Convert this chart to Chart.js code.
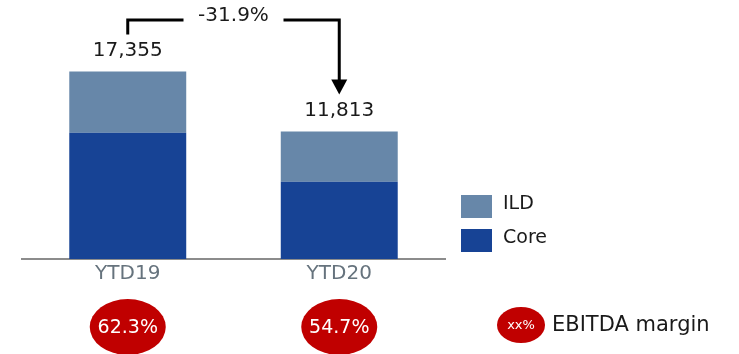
<!DOCTYPE html>
<html>
<head>
<meta charset="utf-8">
<script src="https://cdn.jsdelivr.net/npm/chart.js@4.4.1/dist/chart.umd.min.js"></script>
<style>
html,body{margin:0;padding:0;background:#fff}
.wrap{position:relative;width:739px;height:354px}
</style>
</head>
<body>
<div class="wrap"><canvas id="ebitda"></canvas></div>
<script>
// EBITDA by period, split into Core and ILD
const periods = ['YTD19', 'YTD20'];
const coreValues = [11690, 7150];
const ildValues = [5665, 4663];
const marginPct = [62.3, 54.7];

const FONT = "'DejaVu Sans', sans-serif";
const CORE = '#174395';
const ILD = '#6787a9';
const RED = '#c00000';

const totals = periods.map((_, i) => coreValues[i] + ildValues[i]);
const fmt = v => v.toLocaleString('en-US');

// totals, change bracket, margin bubbles and legend
const overlay = {
  id: 'overlay',
  afterDraw(chart) {
    const { ctx, scales: { x, y } } = chart;
    ctx.save();
    ctx.textAlign = 'center';
    ctx.textBaseline = 'middle';

    const xs = periods.map((_, i) => x.getPixelForValue(i));
    const tops = totals.map(t => y.getPixelForValue(t));

    ctx.fillStyle = '#1a1a1a';
    ctx.font = '20px ' + FONT;
    totals.forEach((t, i) => ctx.fillText(fmt(t), xs[i], tops[i] - 21));

    // change arrow from first bar to second
    const change = (totals[1] - totals[0]) / totals[0] * 100;
    const yb = 20, mid = (xs[0] + xs[1]) / 2, gap = 50;
    const tip = tops[1] - 37;
    ctx.strokeStyle = '#000';
    ctx.lineWidth = 3;
    ctx.beginPath();
    ctx.moveTo(xs[0], tops[0] - 37);
    ctx.lineTo(xs[0], yb);
    ctx.lineTo(mid - gap, yb);
    ctx.moveTo(mid + gap, yb);
    ctx.lineTo(xs[1], yb);
    ctx.lineTo(xs[1], tip - 14);
    ctx.stroke();
    ctx.fillStyle = '#000';
    ctx.beginPath();
    ctx.moveTo(xs[1] - 8, tip - 15);
    ctx.lineTo(xs[1] + 8, tip - 15);
    ctx.lineTo(xs[1], tip);
    ctx.closePath();
    ctx.fill();
    ctx.fillStyle = '#1a1a1a';
    ctx.fillText(change.toFixed(1) + '%', mid, 16);

    // margin bubbles
    marginPct.forEach((m, i) => {
      ctx.fillStyle = RED;
      ctx.beginPath();
      ctx.ellipse(xs[i], 327, 38, 28, 0, 0, Math.PI * 2);
      ctx.fill();
      ctx.fillStyle = '#fff';
      ctx.font = '19px ' + FONT;
      ctx.fillText(m.toFixed(1) + '%', xs[i], 328);
    });

    // legend
    ctx.textAlign = 'left';
    ctx.font = '19px ' + FONT;
    [[ILD, 'ILD', 195], [CORE, 'Core', 229]].forEach(([c, label, top]) => {
      ctx.fillStyle = c;
      ctx.fillRect(461, top, 31, 23);
      ctx.fillStyle = '#1a1a1a';
      ctx.fillText(label, 503, top + 9);
    });
    ctx.fillStyle = RED;
    ctx.beginPath();
    ctx.ellipse(521, 325, 24, 18, 0, 0, Math.PI * 2);
    ctx.fill();
    ctx.fillStyle = '#fff';
    ctx.textAlign = 'center';
    ctx.font = '13px ' + FONT;
    ctx.fillText('xx%', 521, 326);
    ctx.textAlign = 'left';
    ctx.fillStyle = '#1a1a1a';
    ctx.font = '21px ' + FONT;
    ctx.fillText('EBITDA margin', 552, 326);

    ctx.restore();
  }
};

new Chart(document.getElementById('ebitda'), {
  type: 'bar',
  data: {
    labels: periods,
    datasets: [
      { label: 'Core', data: coreValues, backgroundColor: CORE },
      { label: 'ILD', data: ildValues, backgroundColor: ILD }
    ]
  },
  options: {
    responsive: true,
    maintainAspectRatio: false,
    animation: false,
    datasets: { bar: { categoryPercentage: 1, barPercentage: 0.553 } },
    layout: { padding: { left: 22, right: 294, top: 43, bottom: 65 } },
    plugins: { legend: { display: false }, tooltip: { enabled: false } },
    scales: {
      x: {
        stacked: true,
        grid: { display: false, drawTicks: false },
        border: { display: true, color: '#8c8c8c', width: 2 },
        ticks: { color: '#66737d', font: { family: FONT, size: 20 }, padding: 3 }
      },
      y: { stacked: true, display: false, min: 0, max: 20000 }
    }
  },
  plugins: [overlay]
});
</script>
</body>
</html>
